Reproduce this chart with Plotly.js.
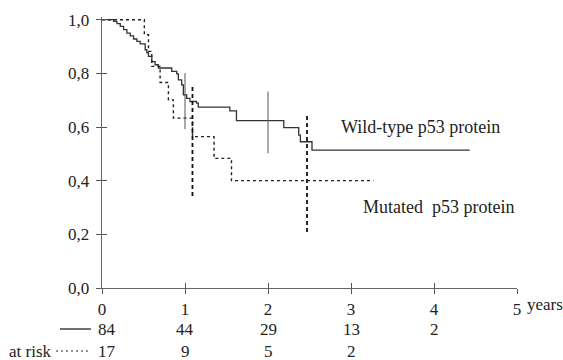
<!DOCTYPE html>
<html><head><meta charset="utf-8">
<script src="https://cdn.plot.ly/plotly-3.0.1.min.js"></script>
<style>html,body{margin:0;padding:0;background:#fff}#chart{width:563px;height:360px}</style>
</head><body><div id="chart"></div>
<script>
// Kaplan-Meier step points (time in years, survival proportion)
const wildTime = [0, 0.14, 0.18, 0.22, 0.26, 0.30, 0.34, 0.38, 0.42, 0.46, 0.52, 0.54, 0.56, 0.60, 0.64, 0.68, 0.84, 0.90, 0.92, 0.96, 0.98, 1.02, 1.06, 1.14, 1.16, 1.54, 1.62, 2.19, 2.37, 2.39, 2.53, 4.43];
const wildSurv = [1.0, 0.994, 0.985, 0.975, 0.963, 0.950, 0.940, 0.928, 0.919, 0.910, 0.888, 0.876, 0.863, 0.844, 0.832, 0.820, 0.807, 0.798, 0.776, 0.757, 0.720, 0.707, 0.695, 0.689, 0.674, 0.660, 0.624, 0.598, 0.570, 0.545, 0.514, 0.514];
const mutTime = [0, 0.51, 0.56, 0.60, 0.70, 0.80, 0.86, 1.09, 1.35, 1.56, 3.27];
const mutSurv = [1.0, 0.944, 0.882, 0.826, 0.766, 0.701, 0.633, 0.564, 0.483, 0.400, 0.400];

// confidence interval bars
const ciWildTime = [1.0, 2.0];
const ciWildLow = [0.592, 0.502];
const ciWildHigh = [0.801, 0.732];
const ciMutTime = [1.09, 2.47];
const ciMutLow = [0.343, 0.209];
const ciMutHigh = [0.753, 0.649];

// axes
const xTicks = [0, 1, 2, 3, 4, 5];
const xTickLabels = ['0', '1', '2', '3', '4', '5'];
const yTicks = [0, 0.2, 0.4, 0.6, 0.8, 1.0];

// numbers at risk
const riskTimes = [0, 1, 2, 3, 4];
const riskWild = [84, 44, 29, 13, 2];
const riskMut = [17, 9, 5, 2];

function segs(t, lo, hi) {
  const x = [], y = [];
  for (let i = 0; i < t.length; i++) { x.push(t[i], t[i], null); y.push(lo[i], hi[i], null); }
  return {x, y};
}
const cw = segs(ciWildTime, ciWildLow, ciWildHigh);
const cm = segs(ciMutTime, ciMutLow, ciMutHigh);

const FONT = '"Liberation Serif", "Times New Roman", serif';
const TXT = '#222';

const traces = [
  {x: wildTime, y: wildSurv, mode: 'lines', line: {shape: 'hv', color: '#333', width: 1.3}, hoverinfo: 'skip'},
  {x: mutTime, y: mutSurv, mode: 'lines', line: {shape: 'hv', color: '#222', width: 1.4, dash: '3px,3px'}, hoverinfo: 'skip'},
  {x: cw.x, y: cw.y, mode: 'lines', line: {color: '#555', width: 1}, hoverinfo: 'skip'},
  {x: cm.x, y: cm.y, mode: 'lines', line: {color: '#111', width: 1.8, dash: '4px,3px'}, hoverinfo: 'skip'},
  {x: [0], y: [0], xaxis: 'x2', yaxis: 'y2', mode: 'markers', marker: {opacity: 0, size: 1}, hoverinfo: 'skip'}
];

const annotations = [
  {x: 2.86, y: 0.60, xref: 'x', yref: 'y', text: 'Wild-type p53 protein', showarrow: false, xanchor: 'left', yanchor: 'middle', font: {family: FONT, size: 18, color: TXT}},
  {x: 3.12, y: 0.303, xref: 'x', yref: 'y', text: 'Mutated&nbsp;&nbsp;p53 protein', showarrow: false, xanchor: 'left', yanchor: 'middle', font: {family: FONT, size: 18, color: TXT}},
  {x: 5, y: 0, xref: 'x', yref: 'y', text: 'years', showarrow: false, xanchor: 'left', yanchor: 'middle', xshift: 8, yshift: -16, font: {family: FONT, size: 17, color: TXT}},
  {x: 0, y: 0, xref: 'x', yref: 'paper', text: 'at risk', showarrow: false, xanchor: 'right', yanchor: 'middle', xshift: -48, yshift: -63, font: {family: FONT, size: 17, color: TXT}}
];
riskWild.forEach((n, i) => annotations.push({x: riskTimes[i], y: 0, xref: 'x', yref: 'paper', text: String(n), showarrow: false, xanchor: 'center', yanchor: 'middle', xshift: i === 0 ? 5 : 0, yshift: -41, font: {family: FONT, size: 17, color: TXT}}));
riskMut.forEach((n, i) => annotations.push({x: riskTimes[i], y: 0, xref: 'x', yref: 'paper', text: String(n), showarrow: false, xanchor: 'center', yanchor: 'middle', xshift: i === 0 ? 5 : 0, yshift: -63, font: {family: FONT, size: 17, color: TXT}}));

const L = 102, R = 46, T = 17, B = 72;
const pw = 563 - L - R, ph = 360 - T - B;
const shapes = [
  {type: 'line', xref: 'paper', yref: 'paper', x0: (60 - L) / pw, x1: (91 - L) / pw, y0: (288 - 329) / ph, y1: (288 - 329) / ph, line: {color: '#222', width: 1.3}},
  {type: 'line', xref: 'paper', yref: 'paper', x0: (56 - L) / pw, x1: (91 - L) / pw, y0: (288 - 351) / ph, y1: (288 - 351) / ph, line: {color: '#222', width: 1.2, dash: '2px,3px'}}
];

const axBase = {showgrid: false, zeroline: false, fixedrange: true};
const layout = {
  width: 563, height: 360,
  margin: {l: L, r: R, t: T, b: B, pad: 0},
  paper_bgcolor: '#fff', plot_bgcolor: '#fff',
  separators: ',.',
  showlegend: false,
  font: {family: FONT, size: 17, color: TXT},
  xaxis: Object.assign({}, axBase, {range: [0, 5], tickvals: xTicks, ticktext: xTickLabels, ticks: 'outside', ticklen: 5, tickcolor: '#555', tickwidth: 1, showline: true, linecolor: '#666', linewidth: 1.3, tickfont: {family: FONT, size: 17, color: TXT}, ticklabelstandoff: 0}),
  yaxis: Object.assign({}, axBase, {range: [0, 1.01], tickvals: yTicks, tickformat: '.1f', ticks: 'outside', ticklen: 5, tickcolor: '#555', tickwidth: 1, showline: true, linecolor: '#666', linewidth: 1.3, tickfont: {family: FONT, size: 17, color: TXT}, ticklabelstandoff: 3}),
  xaxis2: Object.assign({}, axBase, {overlaying: 'x', anchor: 'y', side: 'bottom', range: [0, 5], tickvals: xTicks, ticks: 'inside', ticklen: 5, tickcolor: '#555', tickwidth: 1, showticklabels: false, showline: false}),
  yaxis2: Object.assign({}, axBase, {overlaying: 'y', anchor: 'x', side: 'left', range: [0, 1.01], tickvals: yTicks, ticks: 'inside', ticklen: 5, tickcolor: '#555', tickwidth: 1, showticklabels: false, showline: false}),
  annotations: annotations,
  shapes: shapes
};

Plotly.newPlot('chart', traces, layout, {displayModeBar: false, staticPlot: true});
</script>
</body></html>
